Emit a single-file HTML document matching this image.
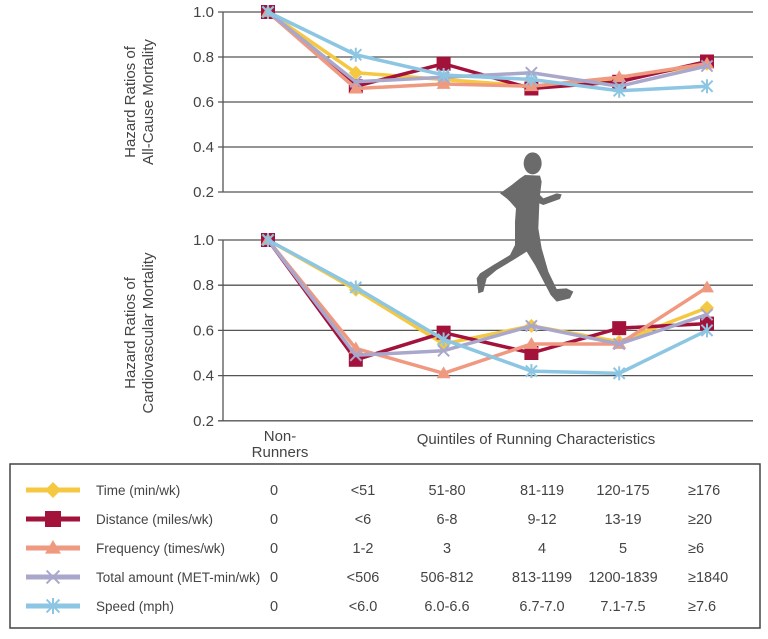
<!DOCTYPE html>
<html><head><meta charset="utf-8"><style>
body{margin:0;background:#fff;width:768px;height:634px;overflow:hidden;font-family:"Liberation Sans","DejaVu Sans",sans-serif;}
svg text{font-family:"Liberation Sans","DejaVu Sans",sans-serif;fill:#444;}
</style></head><body>
<svg id="chart" width="768" height="634" xmlns="http://www.w3.org/2000/svg">
<g id="grid"></g>
<g id="runner" fill="#6b6b6b" transform="translate(460,145) scale(0.3333)">
  <ellipse cx="218" cy="55" rx="27" ry="33"/>
  <path d="M195 90 L240 92 L245 110 L240 150 L250 160 L290 145 L305 148 L300 162 L250 180 L238 175 L235 250 L245 310 L265 380 L290 432 L320 430 L340 440 L330 460 L290 470 L272 450 L225 360 L200 320 L160 345 L110 375 L80 400 L70 440 L55 445 L50 400 L60 385 L100 360 L150 330 L165 300 L165 230 L168 190 L150 170 L140 160 L120 145 L155 120 L180 100 Z"/>
</g>
<g id="series"></g>
<g id="labels"></g>
<g id="legend"></g>
</svg>
<script>
const categories = ["Non-Runners","Q1","Q2","Q3","Q4","Q5"];
const seriesNames = ["Time (min/wk)","Distance (miles/wk)","Frequency (times/wk)","Total amount (MET-min/wk)","Speed (mph)"];
const allCauseTime = [1.0,0.73,0.70,0.67,0.70,0.77];
const allCauseDistance = [1.0,0.67,0.77,0.66,0.69,0.78];
const allCauseFrequency = [1.0,0.66,0.68,0.67,0.71,0.77];
const allCauseTotal = [1.0,0.69,0.71,0.73,0.67,0.76];
const allCauseSpeed = [1.0,0.81,0.72,0.70,0.65,0.67];
const cvTime = [1.0,0.78,0.54,0.62,0.55,0.70];
const cvDistance = [1.0,0.47,0.59,0.50,0.61,0.63];
const cvFrequency = [1.0,0.52,0.41,0.54,0.54,0.79];
const cvTotal = [1.0,0.49,0.51,0.62,0.54,0.67];
const cvSpeed = [1.0,0.79,0.56,0.42,0.41,0.60];
const yTicks = [1.0,0.8,0.6,0.4,0.2];
const legendCols = [
 ["0","<51","51-80","81-119","120-175","≥176"],
 ["0","<6","6-8","9-12","13-19","≥20"],
 ["0","1-2","3","4","5","≥6"],
 ["0","<506","506-812","813-1199","1200-1839","≥1840"],
 ["0","<6.0","6.0-6.6","6.7-7.0","7.1-7.5","≥7.6"]
];
const colors=["#f5c842","#a3123a","#ef9a80","#a9a7cc","#8cc6e3"];
const markers=["diamond","square","triangle","x","star"];
const NS="http://www.w3.org/2000/svg";
function mk(tag,attrs,parent){const e=document.createElementNS(NS,tag);for(const k in attrs)e.setAttribute(k,attrs[k]);parent.appendChild(e);return e;}
const xS=i=>268+87.8*i;
const yTop=v=>12+(1-v)*225;
const yBot=v=>240+(1-v)*226;
const grid=document.getElementById('grid');
const labels=document.getElementById('labels');
[[yTop,'top'],[yBot,'bottom']].forEach(([ys,nm])=>{
  const ax=mk('line',{x1:223,x2:223,y1:ys(1.0),y2:ys(0.2),stroke:'#555','stroke-width':1.3},grid);
  
  
  yTicks.forEach(t=>{
    const l=mk('line',{x1:218,x2:753,y1:ys(t),y2:ys(t),stroke:'#555','stroke-width':1.3},grid);
    
    
    const tx=mk('text',{x:214,y:ys(t)+5,'text-anchor':'end','font-size':15},labels);
    tx.textContent=t.toFixed(1);
    
    
  });
});
function axisTitle(lines,cy,name){
  const g=mk('g',{transform:`translate(135,${cy}) rotate(-90)`},labels);
  
  
  lines.forEach((s,i)=>{const t=mk('text',{x:0,y:i*18,'text-anchor':'middle','font-size':15},g);t.textContent=s;});
}
axisTitle(["Hazard Ratios of","All-Cause Mortality"],102,'top-y-axis-title');
axisTitle(["Hazard Ratios of","Cardiovascular Mortality"],333,'bottom-y-axis-title');
let t=mk('text',{x:280,y:441,'text-anchor':'middle','font-size':15},labels);t.textContent="Non-";

t=mk('text',{x:280,y:457,'text-anchor':'middle','font-size':15},labels);t.textContent="Runners";
t=mk('text',{x:536,y:444,'text-anchor':'middle','font-size':15},labels);t.textContent="Quintiles of Running Characteristics";


function marker(type,x,y,c,parent,s){
  s=s||7;
  if(type==='diamond')return mk('path',{d:`M${x} ${y-s} L${x+s} ${y} L${x} ${y+s} L${x-s} ${y} Z`,fill:c},parent);
  if(type==='square')return mk('rect',{x:x-s,y:y-s,width:2*s,height:2*s,fill:c},parent);
  if(type==='triangle')return mk('path',{d:`M${x} ${y-s} L${x+s} ${y+s*0.7} L${x-s} ${y+s*0.7} Z`,fill:c},parent);
  const g=mk('g',{stroke:c,'stroke-width':2},parent);
  mk('line',{x1:x-s*0.8,y1:y-s*0.8,x2:x+s*0.8,y2:y+s*0.8},g);
  mk('line',{x1:x-s*0.8,y1:y+s*0.8,x2:x+s*0.8,y2:y-s*0.8},g);
  if(type==='star')mk('line',{x1:x,y1:y-s,x2:x,y2:y+s},g);
  return g;
}
const seriesG=document.getElementById('series');
const topData=[allCauseTime,allCauseDistance,allCauseFrequency,allCauseTotal,allCauseSpeed];
const botData=[cvTime,cvDistance,cvFrequency,cvTotal,cvSpeed];
[[topData,yTop,'all-cause'],[botData,yBot,'cardiovascular']].forEach(([data,ys,nm])=>{
  data.forEach((vals,si)=>{
    const g=mk('g',{},seriesG);
    
    
    mk('polyline',{points:vals.map((v,i)=>xS(i)+','+ys(v)).join(' '),fill:'none',stroke:colors[si],'stroke-width':3.5,'stroke-linejoin':'round'},g);
    vals.forEach((v,i)=>{
      const m=marker(markers[si],xS(i),ys(v),colors[si],g);
      
      
    });
  });
});
const lg=document.getElementById('legend');
mk('rect',{x:10,y:464,width:750,height:164,fill:'none',stroke:'#444','stroke-width':1.5},lg);


const colX=[274,363,447,542,623,688];
const anchors=['middle','middle','middle','middle','middle','start'];
seriesNames.forEach((n,i)=>{
  const y=490+29*i;
  const e=mk('g',{},lg);
  
  
  mk('line',{x1:26,x2:80,y1:y,y2:y,stroke:colors[i],'stroke-width':5},e);
  marker(markers[i],53,y,colors[i],e,8);
  let tt=mk('text',{x:96,y:y+5,'font-size':13.5},e);tt.textContent=n;
  legendCols[i].forEach((s,j)=>{const c=mk('text',{x:colX[j],y:y+5,'font-size':14.5,'text-anchor':anchors[j]},e);c.textContent=s;});
});
</script>
</body></html>
